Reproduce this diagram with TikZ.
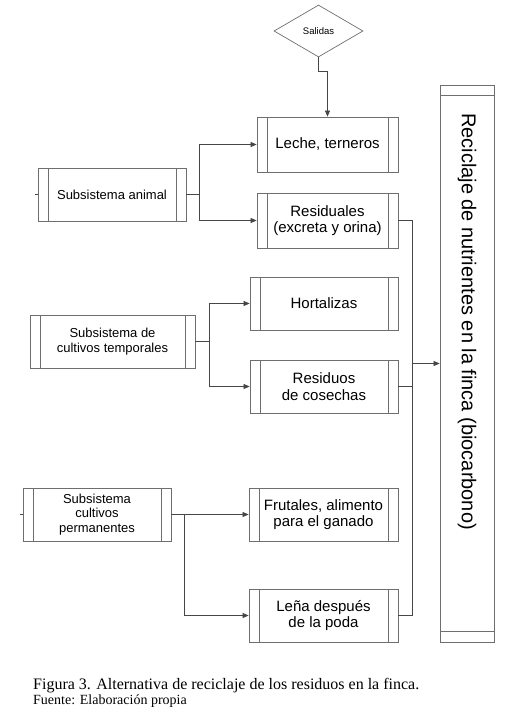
\documentclass[tikz,border=0pt]{standalone}
\usepackage{fontspec}
\setmainfont{Liberation Sans}
\newfontfamily\capfont{Liberation Serif}
\usetikzlibrary{arrows.meta,shapes.geometric}
\definecolor{boxc}{RGB}{110,110,110}
\definecolor{linec}{RGB}{70,70,70}
\tikzset{
  pbox/.style={draw=boxc, line width=0.8pt, rectangle, inner sep=0pt, align=center,
    font=\fontsize{15}{16.5}\selectfont,
    path picture={
      \draw[boxc, line width=0.8pt] ([xshift=10pt]path picture bounding box.north west) -- ([xshift=10pt]path picture bounding box.south west);
      \draw[boxc, line width=0.8pt] ([xshift=-10pt]path picture bounding box.north east) -- ([xshift=-10pt]path picture bounding box.south east);
    }},
  subbox/.style={pbox, font=\fontsize{13}{14.5}\selectfont},
  conn/.style={draw=linec, line width=0.7pt},
  arr/.style={conn, -{Triangle[length=6pt,width=5pt]}},
}
\begin{document}
\begin{tikzpicture}[x=1pt,y=-1pt]
\useasboundingbox (0,0) rectangle (506,713);
% diamond
\node[draw=boxc, line width=0.7pt, diamond, aspect=1.7, minimum width=89pt, minimum height=52pt, inner sep=0pt, font=\fontsize{9.5}{10}\selectfont] (sal) at (318.5,31) {Salidas};
% output boxes
\node[pbox, minimum width=141pt, minimum height=55pt] (leche) at (327.5,144.5) {Leche, terneros};
\node[pbox, minimum width=141pt, minimum height=55pt] (resid) at (327.5,220.5) {Residuales\\(excreta y orina)};
\node[pbox, minimum width=148pt, minimum height=53pt] (hort) at (324,303.5) {Hortalizas};
\node[pbox, minimum width=148pt, minimum height=53pt] (rcos) at (324,386.5) {Residuos\\de cosechas};
\node[pbox, minimum width=149pt, minimum height=53pt] (frut) at (323.5,514.5) {Frutales, alimento\\para el ganado};
\node[pbox, minimum width=149pt, minimum height=53pt] (lena) at (323.5,615.5) {Leña después\\de la poda};
% subsystems
\node[subbox, minimum width=148pt, minimum height=53pt] (anim) at (112,194.5) {Subsistema animal};
\node[subbox, minimum width=165pt, minimum height=53pt] (temp) at (112.5,341.5) {Subsistema de\\cultivos temporales};
\node[subbox, minimum width=148pt, minimum height=53pt] (perm) at (97,514.5) {Subsistema\\cultivos\\permanentes};
% big box
\node[draw=boxc, line width=0.8pt, rectangle, minimum width=54pt, minimum height=557pt, inner sep=0pt] (big) at (467,363.5) {};
\draw[boxc, line width=0.8pt] ([yshift=-10.5pt]big.north west) -- ([yshift=-10.5pt]big.north east);
\draw[boxc, line width=0.8pt] ([yshift=11pt]big.south west) -- ([yshift=11pt]big.south east);
\node[rotate=-90, font=\fontsize{20}{21}\selectfont] (bigtxt) at (467,321.5) {Reciclaje de nutrientes en la finca (biocarbono)};
% stubs
\coordinate (sa) at (35,194.5);
\coordinate (sp) at (20,514.5);
\draw[conn] (sa) -- (anim.west);
\draw[conn] (sp) -- (perm.west);
% salidas
\coordinate (s1) at (318.5,71);
\coordinate (s2) at (327.5,71);
\draw[conn] (sal.south) -- (s1) -- (s2);
\draw[arr] (s2) -- (leche.north);
% animal
\coordinate (ja) at (199,194.5);
\draw[conn] (anim.east) -- (ja);
\draw[arr] (ja) |- (leche.west);
\draw[arr] (ja) |- (resid.west);
% temporales
\coordinate (jt) at (209,341.5);
\draw[conn] (temp.east) -- (jt);
\draw[arr] (jt) |- (hort.west);
\draw[arr] (jt) |- (rcos.west);
% permanentes
\coordinate (jp) at (184,514.5);
\draw[arr] (perm.east) -- (frut.west);
\draw[arr] (jp) |- (lena.west);
% collector
\coordinate (c1) at (412,220.5);
\coordinate (c2) at (412,615.5);
\coordinate (c3) at (412,386.5);
\coordinate (c4) at (412,363.5);
\draw[conn] (resid.east) -- (c1) -- (c2) -- (lena.east);
\draw[conn] (rcos.east) -- (c3);
\draw[arr] (c4) -- (big.west);
% caption
\node[anchor=base west, inner sep=0pt, font=\capfont\fontsize{16}{17}\selectfont] (cap1) at (33,689) {Figura 3. Alternativa de reciclaje de los residuos en la finca.};
\node[anchor=base west, inner sep=0pt, font=\capfont\fontsize{14}{15}\selectfont] (cap2) at (33,704) {Fuente: Elaboración propia};
\end{tikzpicture}
\end{document}
